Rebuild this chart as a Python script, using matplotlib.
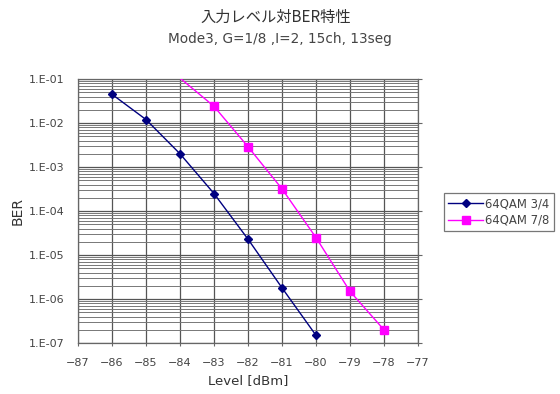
import numpy as np
import matplotlib.pyplot as plt
from matplotlib.ticker import LogLocator, FixedLocator, NullFormatter

plt.rcParams['font.family'] = ['DejaVu Sans', 'Noto Sans CJK JP']

# input level [dBm] vs BER
level_34 = [-86, -85, -84, -83, -82, -81, -80]
ber_34 = [4.5e-2, 1.2e-2, 2.0e-3, 2.5e-4, 2.3e-5, 1.8e-6, 1.5e-7]

level_78 = [-84, -83, -82, -81, -80, -79, -78]
ber_78 = [1.05e-1, 2.4e-2, 2.9e-3, 3.2e-4, 2.5e-5, 1.5e-6, 2.0e-7]

x_ticks = list(range(-87, -76))
y_ticks = [1e-1, 1e-2, 1e-3, 1e-4, 1e-5, 1e-6, 1e-7]
y_labels = ["1.E-01", "1.E-02", "1.E-03", "1.E-04", "1.E-05", "1.E-06", "1.E-07"]

fig = plt.figure(figsize=(5.6, 3.94), dpi=100)
ax = fig.add_axes([0.1393, 0.1294, 0.607, 0.670])

ax.set_yscale("log")
ax.set_xlim(-87, -77)
ax.set_ylim(1e-7, 1e-1)

# dense minor gridlines like a spreadsheet log axis
ax.yaxis.set_major_locator(FixedLocator(y_ticks))
ax.yaxis.set_minor_locator(LogLocator(base=10, subs=np.arange(2, 10)))
ax.yaxis.set_minor_formatter(NullFormatter())
ax.set_yticks(y_ticks)
ax.set_yticklabels(y_labels)
ax.set_xticks(x_ticks)
ax.set_xticklabels([str(v).replace("-", "\u2212") for v in x_ticks])

ax.grid(True, which="major", color="#555555", linewidth=0.9)
ax.grid(True, which="minor", axis="y", color="#777777", linewidth=0.7)

ax.plot(level_34, ber_34, color="#000080", linewidth=1.0, marker="D",
        markersize=4.5, label="64QAM 3/4", zorder=3)
ax.plot(level_78, ber_78, color="#ff00ff", linewidth=1.0, marker="s",
        markersize=5.5, markevery=list(range(1, len(level_78))),
        label="64QAM 7/8", zorder=3)

for side in ["top", "right", "left", "bottom"]:
    ax.spines[side].set_color("#666666")
    ax.spines[side].set_linewidth(0.9)

ax.tick_params(axis="y", which="major", left=False, right=True, length=3,
               color="#666666", labelsize=8, labelcolor="#444444", pad=7)
ax.tick_params(axis="y", which="minor", left=False, right=False)
ax.tick_params(axis="x", length=2, color="#666666", labelsize=8,
               labelcolor="#444444", pad=9)

ax.set_xlabel("Level [dBm]", fontsize=9.5, color="#333333", labelpad=4)
ax.set_ylabel("BER", fontsize=10, color="#333333", labelpad=3)

fig.text(0.493, 0.955, "入力レベル対BER特性", ha="center", va="center",
         fontsize=11, color="#333333", family=['Noto Sans CJK JP', 'DejaVu Sans'])
fig.text(0.50, 0.900, "Mode3, G=1/8 ,I=2, 15ch, 13seg", ha="center",
         va="center", fontsize=9.8, color="#444444")

leg = fig.legend(loc="center left", bbox_to_anchor=(0.793, 0.462),
                 fontsize=8.4, frameon=True, fancybox=False,
                 handlelength=3.0, handletextpad=0.2, borderpad=0.35,
                 labelspacing=0.3, borderaxespad=0)
leg.get_frame().set_edgecolor("#555555")
leg.get_frame().set_linewidth(0.9)
for t in leg.get_texts():
    t.set_color("#444444")

fig.savefig("out.png", dpi=100)
